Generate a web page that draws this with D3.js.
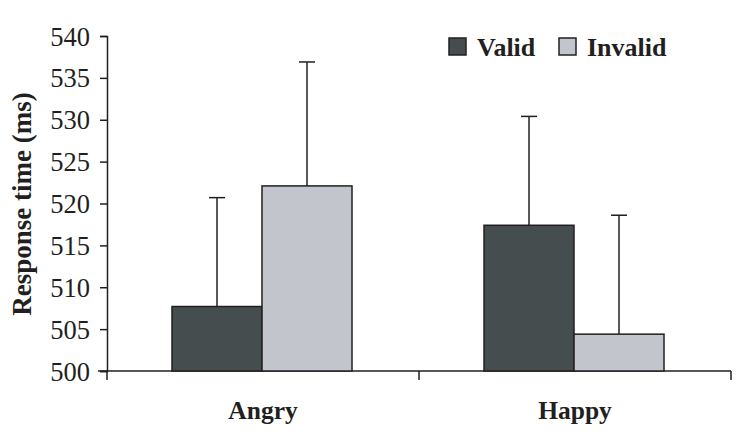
<!DOCTYPE html>
<html>
<head>
<meta charset="utf-8">
<script src="https://cdn.jsdelivr.net/npm/d3@7"></script>
<style>
  body { margin: 0; background: #fff; }
  svg text { font-family: "Liberation Serif", "Times New Roman", serif; fill: #231f20; }
</style>
</head>
<body>
<svg id="chart" width="750" height="440"></svg>
<script>
var categories = ["Angry", "Happy"];
var seriesNames = ["Valid", "Invalid"];
var validMeans = [507.7, 517.4];
var invalidMeans = [522.1, 504.4];
var validErrors = [13.0, 13.0];
var invalidErrors = [14.8, 14.2];
var yTicks = [500, 505, 510, 515, 520, 525, 530, 535, 540];

var colors = { Valid: "#454d4e", Invalid: "#c2c6cc" };

var rows = categories.map(function (c, i) {
    return {
        category: c,
        values: [
            { series: "Valid", mean: validMeans[i], err: validErrors[i] },
            { series: "Invalid", mean: invalidMeans[i], err: invalidErrors[i] }
        ]
    };
});

var svg = d3.select('#chart');
var margin = { left: 107, right: 19, top: 36, bottom: 69 };
var width = 750 - margin.left - margin.right;
var height = 440 - margin.top - margin.bottom;

var g = svg.append('g')
    .attr("transform", "translate(" + margin.left + "," + margin.top + ")");

var x0 = d3.scaleBand()
    .domain(categories)
    .range([0, width])
    .paddingInner(0)
    .paddingOuter(0);

// two bars of ~90px inside each 312px category band
var x1 = d3.scaleBand()
    .domain(seriesNames)
    .range([65, 245]);

var y = d3.scaleLinear()
    .domain([500, 540])
    .range([height, 0]);

// y axis
var yAxis = d3.axisLeft(y)
    .tickValues(yTicks)
    .tickSize(7)
    .tickPadding(10)
    .tickFormat(d3.format("d"));

var yg = g.append("g").call(yAxis);
yg.select(".domain").attr("stroke", "#231f20").attr("stroke-width", 1.5);
yg.selectAll(".tick line").attr("stroke", "#231f20").attr("stroke-width", 1.5);
yg.selectAll(".tick text").style("font-size", "26.5px").attr("fill", "#231f20").attr("dy", "0.34em");

// x axis line with ticks at band edges
var xg = g.append("g").attr("transform", "translate(0," + height + ")");
xg.append("line")
    .attr("x1", -9).attr("x2", width)
    .attr("stroke", "#231f20").attr("stroke-width", 1.5);
var edges = [0, x0.bandwidth(), width];
xg.selectAll(".xtick").data(edges).enter().append("line")
    .attr("class", "xtick")
    .attr("x1", function (d) { return d; })
    .attr("x2", function (d) { return d; })
    .attr("y1", 0).attr("y2", 9)
    .attr("stroke", "#231f20").attr("stroke-width", 1.5);

xg.selectAll(".xlabel").data(categories).enter().append("text")
    .attr("class", "xlabel")
    .attr("x", function (d) { return x0(d) + x0.bandwidth() / 2; })
    .attr("y", 48)
    .attr("text-anchor", "middle")
    .style("font-size", "25.5px")
    .style("font-weight", "bold")
    .text(function (d) { return d; });

// bars
var groups = g.selectAll(".group").data(rows).enter().append("g")
    .attr("class", "group")
    .attr("transform", function (d) { return "translate(" + x0(d.category) + ",0)"; });

// error bars (upper only)
groups.selectAll(".err").data(function (d) { return d.values; }).enter().append("line")
    .attr("class", "err")
    .attr("x1", function (d) { return x1(d.series) + x1.bandwidth() / 2; })
    .attr("x2", function (d) { return x1(d.series) + x1.bandwidth() / 2; })
    .attr("y1", function (d) { return y(d.mean); })
    .attr("y2", function (d) { return y(d.mean + d.err); })
    .attr("stroke", "#231f20").attr("stroke-width", 1.5);

groups.selectAll(".cap").data(function (d) { return d.values; }).enter().append("line")
    .attr("class", "cap")
    .attr("x1", function (d) { return x1(d.series) + x1.bandwidth() / 2 - 8; })
    .attr("x2", function (d) { return x1(d.series) + x1.bandwidth() / 2 + 8; })
    .attr("y1", function (d) { return y(d.mean + d.err); })
    .attr("y2", function (d) { return y(d.mean + d.err); })
    .attr("stroke", "#231f20").attr("stroke-width", 1.5);

groups.selectAll("rect").data(function (d) { return d.values; }).enter().append("rect")
    .attr("x", function (d) { return x1(d.series); })
    .attr("y", function (d) { return y(d.mean); })
    .attr("width", x1.bandwidth())
    .attr("height", function (d) { return height - y(d.mean); })
    .attr("fill", function (d) { return colors[d.series]; })
    .attr("stroke", "#231f20")
    .attr("stroke-width", 1.5);

// y axis title
svg.append("text")
    .attr("transform", "translate(31,204) rotate(-90)")
    .attr("text-anchor", "middle")
    .style("font-size", "27px")
    .style("font-weight", "bold")
    .text("Response time (ms)");

// legend
var legendX = [449, 559];
var legend = svg.selectAll(".legend").data(seriesNames).enter().append("g")
    .attr("class", "legend")
    .attr("transform", function (d, i) { return "translate(" + legendX[i] + ",38)"; });

legend.append("rect")
    .attr("width", 17).attr("height", 17)
    .attr("fill", function (d) { return colors[d]; })
    .attr("stroke", "#231f20").attr("stroke-width", 1.5);

legend.append("text")
    .attr("x", 28).attr("y", 18)
    .style("font-size", "26px")
    .style("font-weight", "bold")
    .text(function (d) { return d; });
</script>
</body>
</html>
